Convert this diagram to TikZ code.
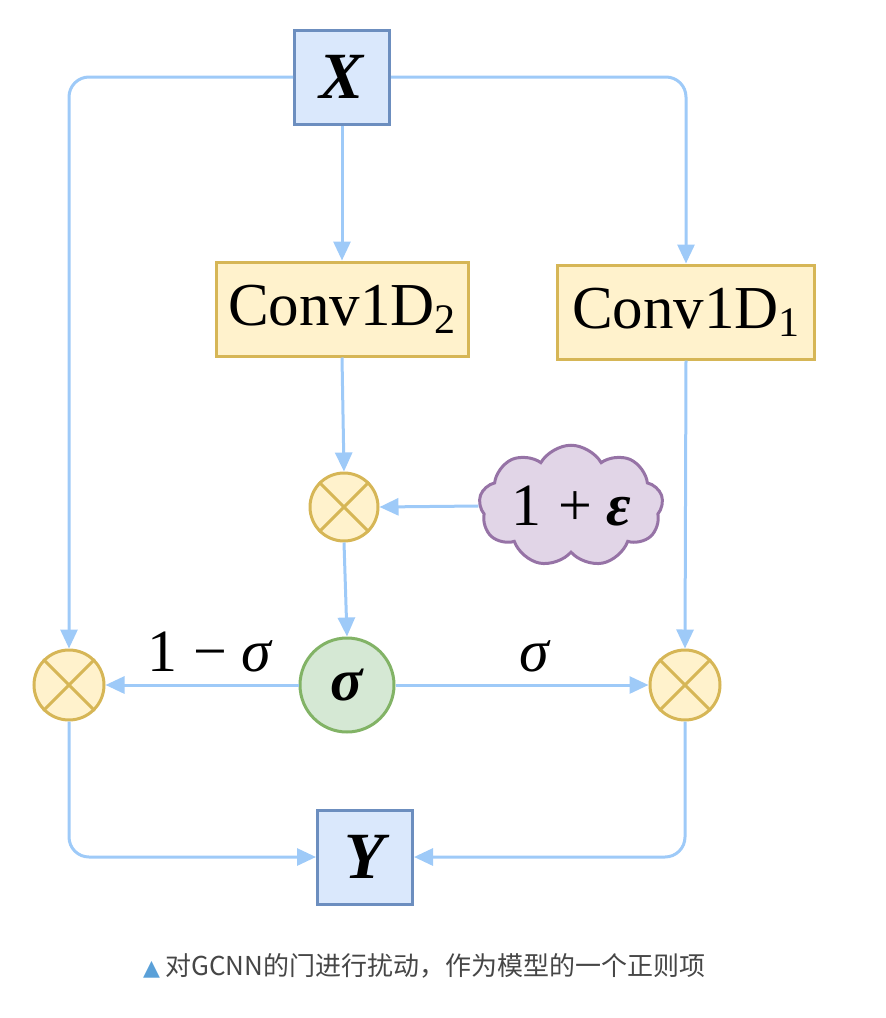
\documentclass[tikz,border=0pt]{standalone}
\usepackage{fontspec}
\setmainfont{Liberation Serif}
\newfontfamily\cjk{Noto Sans CJK SC}
\newfontfamily\dvs{DejaVu Sans}
\usetikzlibrary{arrows.meta,shapes.symbols}
\definecolor{lnblue}{RGB}{158,202,248}
\definecolor{bxfill}{RGB}{218,232,252}
\definecolor{bxdraw}{RGB}{108,142,191}
\definecolor{yfill}{RGB}{255,242,204}
\definecolor{ydraw}{RGB}{214,182,86}
\definecolor{gfill}{RGB}{213,232,212}
\definecolor{gdraw}{RGB}{130,179,102}
\definecolor{pfill}{RGB}{225,213,231}
\definecolor{pdraw}{RGB}{150,115,166}
\definecolor{capgray}{RGB}{70,70,70}
\definecolor{tri}{RGB}{90,160,216}
\tikzset{
  iobox/.style={draw=bxdraw,fill=bxfill,line width=3pt,minimum width=95,minimum height=94,inner sep=0,
    font=\fontsize{66}{68}\selectfont\bfseries\itshape},
  convbox/.style={draw=ydraw,fill=yfill,line width=3pt,minimum height=94,inner sep=0,
    font=\fontsize{61}{63}\selectfont},
  mult/.style={circle,draw=ydraw,fill=yfill,line width=3pt,minimum size=68,inner sep=0},
  sig/.style={circle,draw=gdraw,fill=gfill,line width=3pt,minimum size=94,inner sep=0,
    font=\fontsize{60}{62}\selectfont\bfseries\itshape},
  cloudnode/.style={cloud,cloud puffs=9,cloud puff arc=120,aspect=1.8,draw=pdraw,fill=pfill,line width=3pt,
    minimum width=184,minimum height=106,inner sep=0,font=\fontsize{60}{62}\selectfont},
  conn/.style={draw=lnblue,line width=3pt,-{Triangle[length=19pt,width=17pt]},rounded corners=20pt},
  lbl/.style={font=\fontsize{60}{62}\selectfont,inner sep=0}
}
\newcommand{\crossin}[1]{\draw[ydraw,line width=3pt] (#1.45) -- (#1.225) (#1.135) -- (#1.315);}
\begin{document}
\begin{tikzpicture}[x=1pt,y=-1pt]
\useasboundingbox (0,0) rectangle (886,1018);
\node[iobox] (X) at (342,77) {X};
\node[convbox,minimum width=252] (c2) at (342,309) {Conv1D\raisebox{-0.28ex}{\fontsize{42}{42}\selectfont 2}};
\node[convbox,minimum width=257] (c1) at (686,312) {Conv1D\raisebox{-0.28ex}{\fontsize{42}{42}\selectfont 1}};
\node[mult] (ot) at (344,507) {};
\crossin{ot}
\node[cloudnode] (cl) at (571,506) {1\hspace{17pt}+\hspace{14pt}\textbf{\textit{ε}}};
\node[sig] (s) at (347,685) {σ};
\node[mult,minimum size=70] (ol) at (69,685) {};
\crossin{ol}
\node[mult,minimum size=70] (or) at (685,685) {};
\crossin{or}
\node[iobox] (Y) at (365,857) {Y};
\draw[conn] (X.west) -| (ol.north);
\draw[conn] (X.east) -| (c1.north);
\draw[conn] (X.south) -- (c2.north);
\draw[conn] (c2.south) -- (ot.north);
\draw[conn] (cl.west) -- (ot.east);
\draw[conn] (ot.south) -- (s.north);
\draw[conn] (s.west) -- (ol.east);
\draw[conn] (s.east) -- (or.west);
\draw[conn] (c1.south) -- (or.north);
\draw[conn] (ol.south) |- (Y.west);
\draw[conn] (or.south) |- (Y.east);
\node[lbl] (l1) at (210,652) {1\hspace{16pt}−\hspace{14pt}\textit{σ}};
\node[lbl] (l2) at (535,656) {\textit{σ}};
\node[anchor=west,inner sep=0,text=capgray,font=\cjk\fontsize{26}{28}\selectfont] (cap) at (143,966)
  {{\dvs\color{tri}\fontsize{22}{24}\selectfont ▲}\hspace{5pt}对GCNN的门进行扰动，作为模型的一个正则项};
\end{tikzpicture}
\end{document}
